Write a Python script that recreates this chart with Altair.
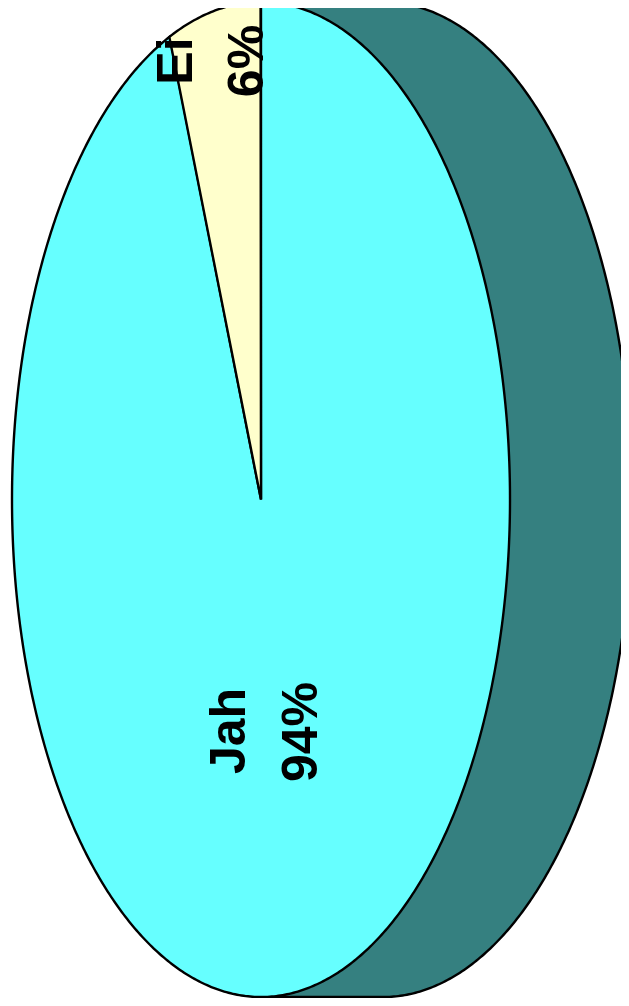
import altair as alt
import numpy as np
import pandas as pd

# Chart values
categories = ["Jah", "Ei"]
shares = [94, 6]
share_labels = ["94%", "6%"]

# Drawing geometry (not data); pixel figures are page coordinates
MARGIN = 8
W, H = 613, 990
CX, CY, RX, RY = 261.0, 499.5, 249.0, 497.5
DEPTH = 122.0 / RX
COLORS = {"Jah": "#66FFFF", "Ei": "#FFFFCC"}
DARK = "#358080"


def unit_x(px):
    return (px - CX) / RX


def unit_y(py):
    return (CY - py) / RY


x_scale = alt.Scale(domain=[unit_x(MARGIN), unit_x(MARGIN + W)], range=[0, W], nice=False, zero=False)
y_scale = alt.Scale(domain=[unit_y(MARGIN + H), unit_y(MARGIN)], range=[H, 0], nice=False, zero=False)


def outline(start_deg, end_deg):
    t = np.radians(np.arange(start_deg, end_deg + 0.25, 0.5))
    return np.sin(t), np.cos(t)


def polygon_chart(df, fill):
    return (
        alt.Chart(df)
        .mark_line(interpolate="linear-closed", fill=fill, stroke="black", strokeWidth=2.4, clip=False)
        .encode(
            x=alt.X("x:Q", scale=x_scale, axis=None),
            y=alt.Y("y:Q", scale=y_scale, axis=None),
            order=alt.Order("i:Q"),
        )
    )


# Extruded side of the pie
sx, sy = outline(0, 180)
side_x = np.concatenate([[0.0], sx + DEPTH, [0.0]])
side_y = np.concatenate([[1.0], sy, [-1.0]])
side = pd.DataFrame({"x": side_x, "y": side_y, "i": np.arange(len(side_x))})
layers = [polygon_chart(side, DARK)]

# Slices: angles come from the shares, running clockwise from 12 o'clock
start = 0.0
for cat, share in zip(categories, shares):
    sweep = 360.0 * share / sum(shares)
    ox, oy = outline(start, start + sweep)
    px = np.concatenate([[0.0], ox])
    py = np.concatenate([[0.0], oy])
    df = pd.DataFrame({"x": px, "y": py, "i": np.arange(len(px))})
    layers.append(polygon_chart(df, COLORS[cat]))
    start += sweep

# Labels
label_px = {"Jah": (245, 731), "94%": (317, 732), "Ei": (192, 61), "6%": (263, 61)}
texts = categories + share_labels
labels = pd.DataFrame(
    {
        "text": texts,
        "x": [unit_x(label_px[t][0]) for t in texts],
        "y": [unit_y(label_px[t][1]) for t in texts],
    }
)
layers.append(
    alt.Chart(labels)
    .mark_text(
        angle=270,
        align="center",
        baseline="alphabetic",
        font="Liberation Sans",
        fontWeight="bold",
        fontSize=50,
        color="black",
    )
    .encode(
        x=alt.X("x:Q", scale=x_scale, axis=None),
        y=alt.Y("y:Q", scale=y_scale, axis=None),
        text="text:N",
    )
)

chart = (
    alt.layer(*layers)
    .properties(
        width=W,
        height=H,
        padding=0,
        autosize=alt.AutoSizeParams(type="none"),
        background="white",
    )
    .configure_view(stroke=None)
)

chart.save("out.html", embed_options={"renderer": "svg", "actions": False})
